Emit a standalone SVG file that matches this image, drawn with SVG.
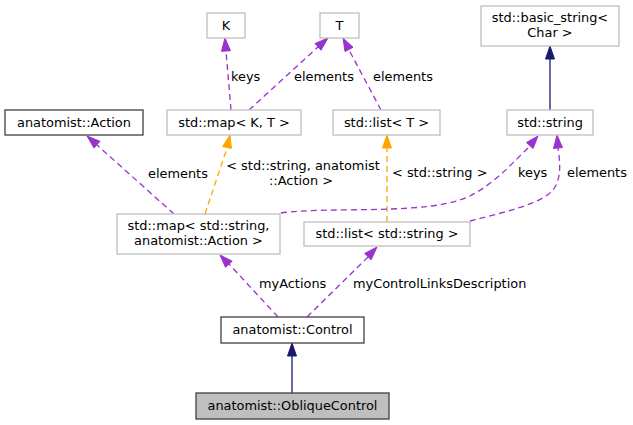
<svg xmlns="http://www.w3.org/2000/svg" width="633" height="425" viewBox="0 0 633 425">
<style>
text{font-family:"DejaVu Sans","Liberation Sans",sans-serif;font-size:12.9px;fill:#000}
.n text{text-anchor:middle}
.g{fill:#fff;stroke:#bfbfbf;stroke-width:1.3}
.b{fill:#fff;stroke:#404040;stroke-width:1.3}
.s{fill:#bfbfbf;stroke:#404040;stroke-width:1.3}
.p{fill:none;stroke:#9a32cd;stroke-width:1.3;stroke-dasharray:6,4}
.o{fill:none;stroke:#ffa500;stroke-width:1.3;stroke-dasharray:6,4}
.v{fill:none;stroke:#191970;stroke-width:1.3}
.ap{fill:#9a32cd;stroke:#9a32cd}
.ao{fill:#ffa500;stroke:#ffa500}
.av{fill:#191970;stroke:#191970}
.c text{text-anchor:start}
.c text.m{text-anchor:middle}
</style>
<g id="connectors" class="c">
<path class="v" d="M292,393 L292,356"/>
<polygon class="av" points="292,343 287.5,356 296.5,356"/>
<path class="v" d="M550,110 L550,59"/>
<polygon class="av" points="550,46 545.5,59 554.5,59"/>
<path class="p" d="M231,110 L226,51"/>
<polygon class="ap" points="225,38 221.5,51.3 230.5,50.7"/>
<text x="231" y="81">keys</text>
<path class="p" d="M249,110 L318,47"/>
<polygon class="ap" points="328,38 315,43.5 321,50.2"/>
<text x="294" y="81">elements</text>
<path class="p" d="M381,110 L349,50"/>
<polygon class="ap" points="343,38 345,51.5 353,47.3"/>
<text x="373" y="81">elements</text>
<path class="p" d="M174,214 L97,145"/>
<polygon class="ap" points="87,136 94,148 100,141.3"/>
<text x="148" y="178">elements</text>
<path class="o" d="M205,214 L227,148"/>
<polygon class="ao" points="230,135 222.6,146.5 231.4,148.5"/>
<text class="m" x="303" y="170">&lt; std::string, anatomist</text>
<text class="m" x="301" y="185">::Action &gt;</text>
<path class="o" d="M387,222 L387,148"/>
<polygon class="ao" points="387,135 382.5,148 391.5,148"/>
<text x="392" y="177">&lt; std::string &gt;</text>
<path class="p" d="M281,213 C330,206 430,216 470,196 C497,182 515,160 530,146"/>
<polygon class="ap" points="538,136 526.5,142.5 533,148.5"/>
<text x="518" y="177">keys</text>
<path class="p" d="M470,221 C500,213 540,205 553,190 C562,178 560,162 558,148"/>
<polygon class="ap" points="557,135 553.5,148.5 562.5,147.5"/>
<text x="567" y="177">elements</text>
<path class="p" d="M278,317 L229,264"/>
<polygon class="ap" points="220,255 225.5,267.3 232.2,261.2"/>
<text x="259" y="288">myActions</text>
<path class="p" d="M307,317 L368,257"/>
<polygon class="ap" points="377,247 364.7,253.4 371.1,259.8"/>
<text x="353" y="288">myControlLinksDescription</text>
</g>
<g id="K" class="n"><rect class="g" x="207" y="13" width="38" height="25"/><text x="226" y="30">K</text></g>
<g id="T" class="n"><rect class="g" x="320" y="13" width="39" height="25"/><text x="339.5" y="30">T</text></g>
<g id="basic_string" class="n"><rect class="g" x="481" y="6" width="138" height="40"/><text x="550" y="22">std::basic_string&lt;</text><text x="550" y="37">Char &gt;</text></g>
<g id="Action" class="n"><rect class="b" x="5" y="110" width="138" height="25"/><text x="74" y="127">anatomist::Action</text></g>
<g id="map_KT" class="n"><rect class="g" x="167" y="110" width="134" height="25"/><text x="234" y="127">std::map&lt; K, T &gt;</text></g>
<g id="list_T" class="n"><rect class="g" x="333" y="110" width="107" height="25"/><text x="386.5" y="127">std::list&lt; T &gt;</text></g>
<g id="string" class="n"><rect class="g" x="507" y="110" width="86" height="25"/><text x="550" y="127">std::string</text></g>
<g id="map_string_Action" class="n"><rect class="g" x="117" y="214" width="163" height="40"/><text x="198.5" y="230">std::map&lt; std::string,</text><text x="198.5" y="245">anatomist::Action &gt;</text></g>
<g id="list_string" class="n"><rect class="g" x="304" y="222" width="166" height="24"/><text x="387" y="238">std::list&lt; std::string &gt;</text></g>
<g id="Control" class="n"><rect class="b" x="221" y="317" width="143" height="26"/><text x="292.5" y="334">anatomist::Control</text></g>
<g id="ObliqueControl" class="n"><rect class="s" x="196" y="393" width="193" height="26"/><text x="292.5" y="410">anatomist::ObliqueControl</text></g>
</svg>
